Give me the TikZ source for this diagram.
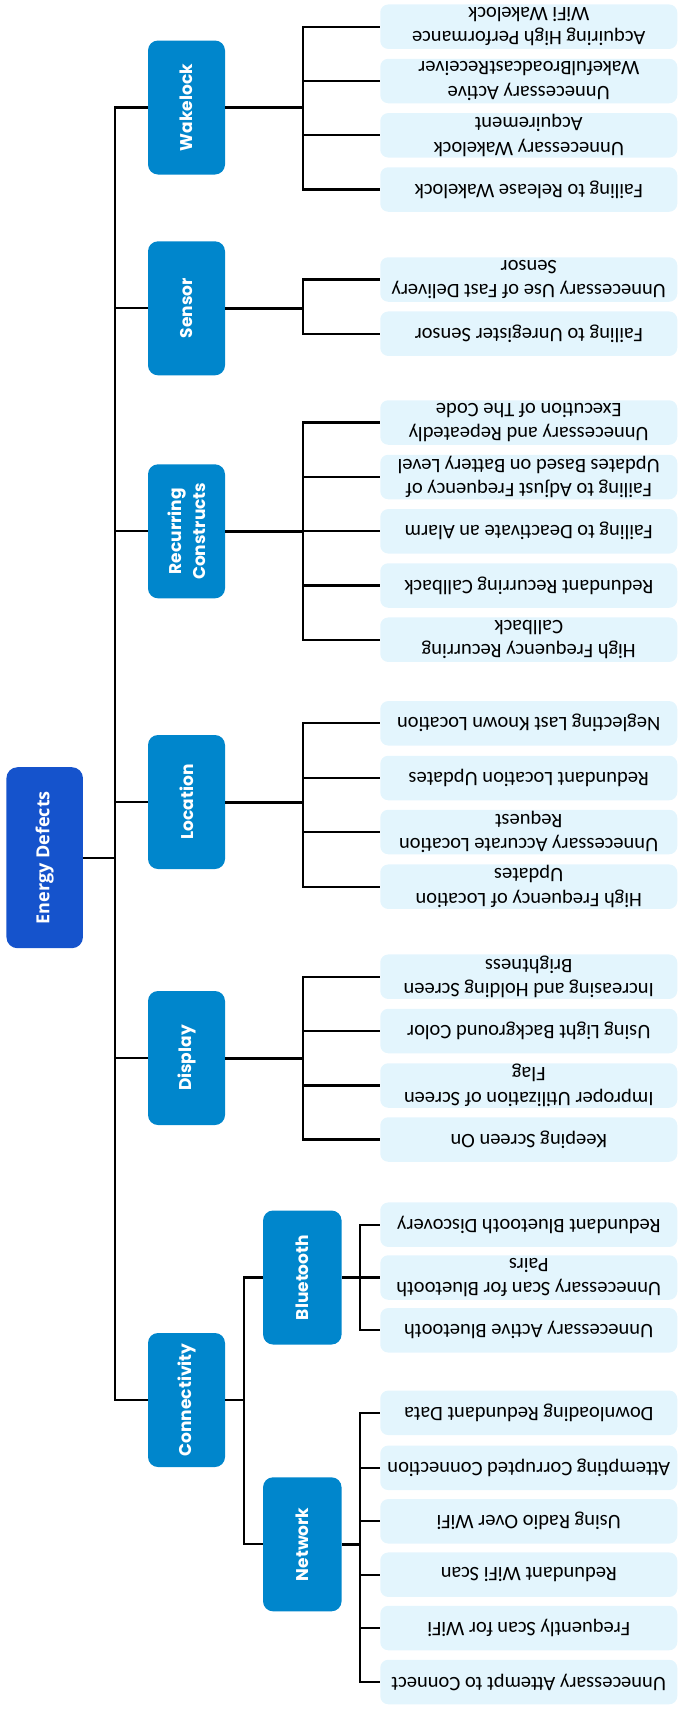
\documentclass[tikz,border=0pt]{standalone}
\usepackage{fontspec}
\setmainfont{Carlito}
\newfontfamily\leaffont{Carlito}
\newfontfamily\catfont{Poppins}
\newfontfamily\rootfont{Open Sans}
\definecolor{catblue}{RGB}{0,134,204}
\definecolor{rootblue}{RGB}{21,83,204}
\definecolor{leaffill}{RGB}{227,245,253}
\tikzset{
  leaf/.style={rectangle, rounded corners=8pt, fill=leaffill, rotate=180,
    minimum width=297pt, minimum height=44.5pt, inner xsep=0pt, inner ysep=0pt,
    align=center, font=\leaffont\fontsize{20.5}{24.5}\selectfont, text=black},
  cat/.style={rectangle, rounded corners=10pt, fill=catblue, rotate=90,
    minimum width=134pt, minimum height=77pt, inner sep=0pt, align=center,
    text=white, font=\catfont\bfseries\fontsize{17}{24}\selectfont},
  sub/.style={cat, minimum height=78.5pt},
  rootbox/.style={rectangle, rounded corners=11pt, fill=rootblue, rotate=90,
    minimum width=181pt, minimum height=76.5pt, inner sep=0pt,
    text=white, font=\rootfont\bfseries\fontsize{18}{22}\selectfont},
  link/.style={draw=black, line width=2.3pt},
  thick link/.style={draw=black, line width=3pt},
}
\begin{document}
\begin{tikzpicture}[x=1pt, y=-1pt]
\useasboundingbox (0,0) rectangle (678,1711);

% root
\node[rootbox] (root) at (44.7,857.7) {Energy Defects};

% categories
\node[cat] (wake) at (186.5,107.5) {Wakelock};
\node[cat] (sens) at (186.5,308.3) {Sensor};
\node[cat] (recu) at (186.5,531.3) {Recurring\\Constructs};
\node[cat] (loca) at (186.5,802) {Location};
\node[cat] (disp) at (186.5,1058) {Display};
\node[cat] (conn) at (186.5,1400) {Connectivity};
\node[sub] (blue) at (302.3,1277.5) {Bluetooth};
\node[sub] (netw) at (302.3,1544.3) {Network};

% leaves
\def\lx{528.75}
\node[leaf] (w1) at (\lx,26.7) {Acquiring High Performance\\WiFi Wakelock};
\node[leaf] (w2) at (\lx,81) {Unnecessary Active\\WakefulBroadcastReceiver};
\node[leaf] (w3) at (\lx,135.3) {Unnecessary Wakelock\\Acquirement};
\node[leaf] (w4) at (\lx,189.5) {Failing to Release Wakelock};

\node[leaf] (s1) at (\lx,279.5) {Unnecessary Use of Fast Delivery\\Sensor};
\node[leaf] (s2) at (\lx,333.7) {Failing to Unregister Sensor};

\node[leaf] (r1) at (\lx,422.5) {Unnecessary and Repeatedly\\Execution of The Code};
\node[leaf] (r2) at (\lx,477) {Failing to Adjust Frequency of\\Updates Based on Battery Level};
\node[leaf] (r3) at (\lx,531.3) {Failing to Deactivate an Alarm};
\node[leaf] (r4) at (\lx,585.5) {Redundant Recurring Callback};
\node[leaf] (r5) at (\lx,639.7) {High Frequency Recurring\\Callback};

\node[leaf] (l1) at (\lx,723.3) {Neglecting Last Known Location};
\node[leaf] (l2) at (\lx,778) {Redundant Location Updates};
\node[leaf] (l3) at (\lx,832) {Unnecessary Accurate Location\\Request};
\node[leaf] (l4) at (\lx,886.7) {High Frequency of Location\\Updates};

\node[leaf] (d1) at (\lx,976.7) {Increasing and Holding Screen\\Brightness};
\node[leaf] (d2) at (\lx,1031) {Using Light Background Color};
\node[leaf] (d3) at (\lx,1085.5) {Improper Utilization of Screen\\Flag};
\node[leaf] (d4) at (\lx,1139.5) {Keeping Screen On};

\node[leaf] (b1) at (\lx,1224.7) {Redundant Bluetooth Discovery};
\node[leaf] (b2) at (\lx,1277.5) {Unnecessary Scan for Bluetooth\\Pairs};
\node[leaf] (b3) at (\lx,1330.3) {Unnecessary Active Bluetooth};

\node[leaf] (n1) at (\lx,1412.8) {Downloading Redundant Data};
\node[leaf] (n2) at (\lx,1467.8) {Attempting Corrupted Connection};
\node[leaf] (n3) at (\lx,1521.3) {Using Radio Over WiFi};
\node[leaf] (n4) at (\lx,1574.7) {Redundant WiFi Scan};
\node[leaf] (n5) at (\lx,1628) {Frequently Scan for WiFi};
\node[leaf] (n6) at (\lx,1682) {Unnecessary Attempt to Connect};

% trunk
\coordinate (tr) at (115,857.7);
\draw[link] (root.south) -- (tr);
\draw[link] (tr) |- (wake.north);
\draw[link] (tr) |- (conn.north);
\foreach \c in {sens,recu,loca,disp}{
  \draw[link] (tr |- \c.north) -- (\c.north);
}

% category buses
\foreach \c/\leaves in {wake/{w1,w2,w3,w4}, sens/{s1,s2}, recu/{r1,r2,r3,r4,r5}, loca/{l1,l2,l3,l4}, disp/{d1,d2,d3,d4}}{
  \coordinate (bus) at ([xshift=78pt]\c.south);
  \draw[thick link] (\c.south) -- (bus);
  \foreach \l in \leaves { \draw[link] (bus) |- (\l.east); }
}

% connectivity
\coordinate (cb) at ([xshift=18.5pt]conn.south);
\draw[link] (conn.south) -- (cb);
\draw[link] (cb) |- (blue.north);
\draw[link] (cb) |- (netw.north);

\coordinate (bb) at ([xshift=18.5pt]blue.south);
\draw[thick link] (blue.south) -- (bb);
\foreach \l in {b1,b2,b3}{ \draw[link] (bb) |- (\l.east); }

\coordinate (nb) at ([xshift=18.5pt]netw.south);
\draw[thick link] (netw.south) -- (nb);
\foreach \l in {n1,n2,n3,n4,n5,n6}{ \draw[link] (nb) |- (\l.east); }
\end{tikzpicture}
\end{document}
